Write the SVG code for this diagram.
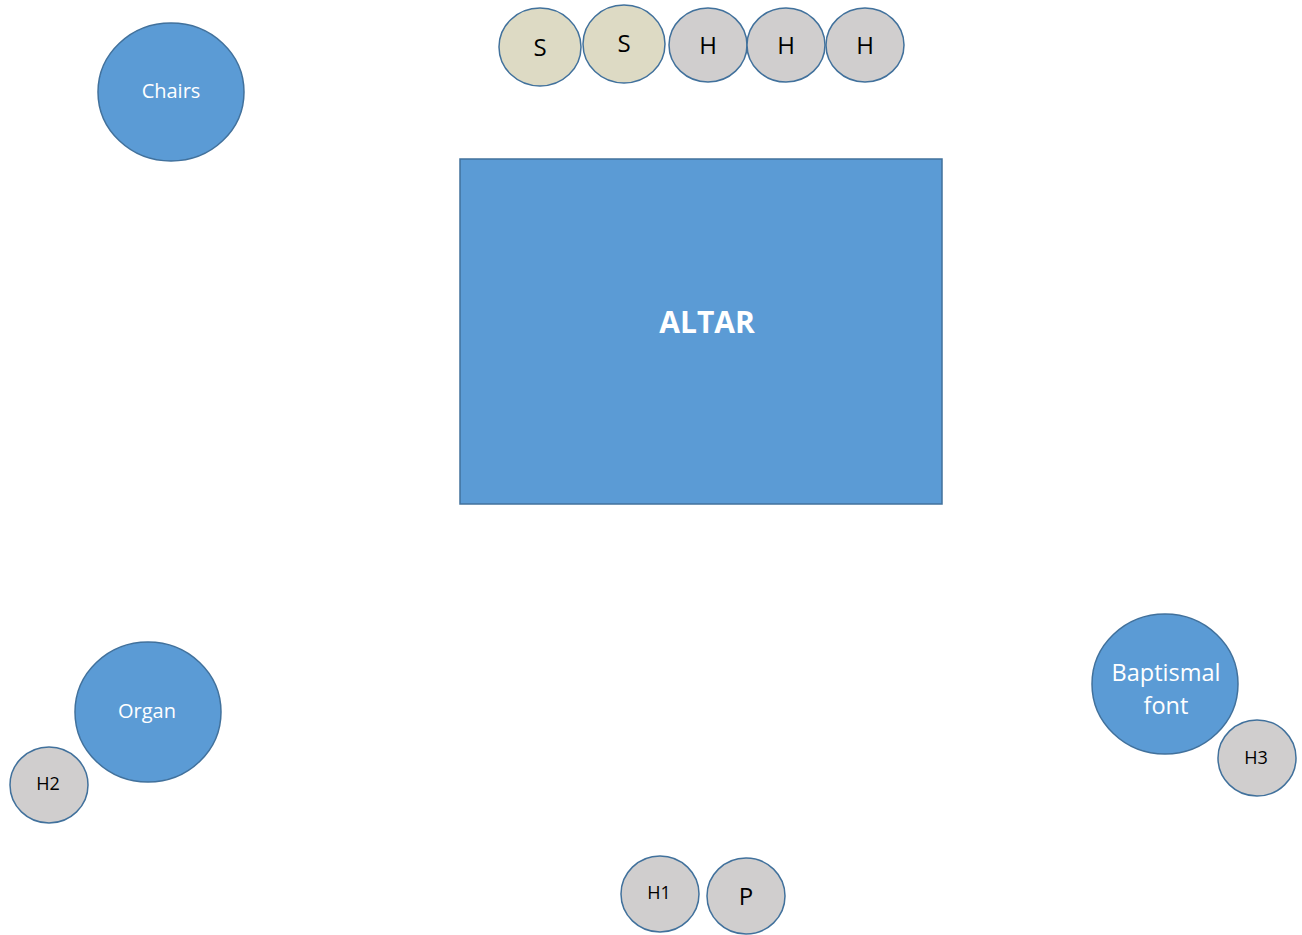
<svg xmlns="http://www.w3.org/2000/svg" width="1302" height="935" viewBox="0 0 1302 935">
  <style>
    .blue { fill: #5B9BD5; stroke: #41719C; stroke-width: 1.5; }
    .grey { fill: #D0CECE; stroke: #41719C; stroke-width: 1.5; }
    .tan { fill: #DDDAC4; stroke: #41719C; stroke-width: 1.5; }
    .lbl { font-family: "Open Sans", "Liberation Sans", sans-serif; text-anchor: middle; dominant-baseline: central; }
    .w { fill: #FFFFFF; font-size: 20px; }
    .k { fill: #000000; font-size: 24px; }
    .ks { fill: #000000; font-size: 18px; }
  </style>
  <rect width="1302" height="935" fill="#FFFFFF"/>
  <g id="connectors"></g>

  <g id="altar">
    <rect class="blue" x="460" y="159" width="482" height="345"/>
    <text class="lbl" x="707" y="321" fill="#FFFFFF" font-size="30" font-weight="bold">ALTAR</text>
  </g>

  <g id="chairs">
    <ellipse class="blue" cx="171" cy="92" rx="73" ry="69"/>
    <text class="lbl w" x="171" y="90">Chairs</text>
  </g>

  <g id="seat-s1">
    <ellipse class="tan" cx="540" cy="47" rx="41" ry="39"/>
    <text class="lbl k" x="540" y="46">S</text>
  </g>
  <g id="seat-s2">
    <ellipse class="tan" cx="624" cy="44" rx="41" ry="39"/>
    <text class="lbl k" x="624" y="42">S</text>
  </g>
  <g id="seat-h-a">
    <ellipse class="grey" cx="708" cy="45" rx="39" ry="37"/>
    <text class="lbl k" x="708" y="44">H</text>
  </g>
  <g id="seat-h-b">
    <ellipse class="grey" cx="786" cy="45" rx="39" ry="37"/>
    <text class="lbl k" x="786" y="44">H</text>
  </g>
  <g id="seat-h-c">
    <ellipse class="grey" cx="865" cy="45" rx="39" ry="37"/>
    <text class="lbl k" x="865" y="44">H</text>
  </g>

  <g id="organ">
    <ellipse class="blue" cx="148" cy="712" rx="73" ry="70"/>
    <text class="lbl w" x="147" y="710">Organ</text>
  </g>
  <g id="h2">
    <ellipse class="grey" cx="49" cy="785" rx="39" ry="38"/>
    <text class="lbl ks" x="48" y="783">H2</text>
  </g>

  <g id="baptismal-font">
    <ellipse class="blue" cx="1165" cy="684" rx="73" ry="70"/>
    <text class="lbl" x="1166" y="672" fill="#FFFFFF" font-size="23.5">Baptismal</text>
    <text class="lbl" x="1166" y="705" fill="#FFFFFF" font-size="23.5">font</text>
  </g>
  <g id="h3">
    <ellipse class="grey" cx="1257" cy="758" rx="39" ry="38"/>
    <text class="lbl ks" x="1256" y="757">H3</text>
  </g>

  <g id="h1">
    <ellipse class="grey" cx="660" cy="894" rx="39" ry="38"/>
    <text class="lbl ks" x="659" y="892">H1</text>
  </g>
  <g id="p">
    <ellipse class="grey" cx="746" cy="896" rx="39" ry="38"/>
    <text class="lbl k" x="746" y="895">P</text>
  </g>
</svg>
